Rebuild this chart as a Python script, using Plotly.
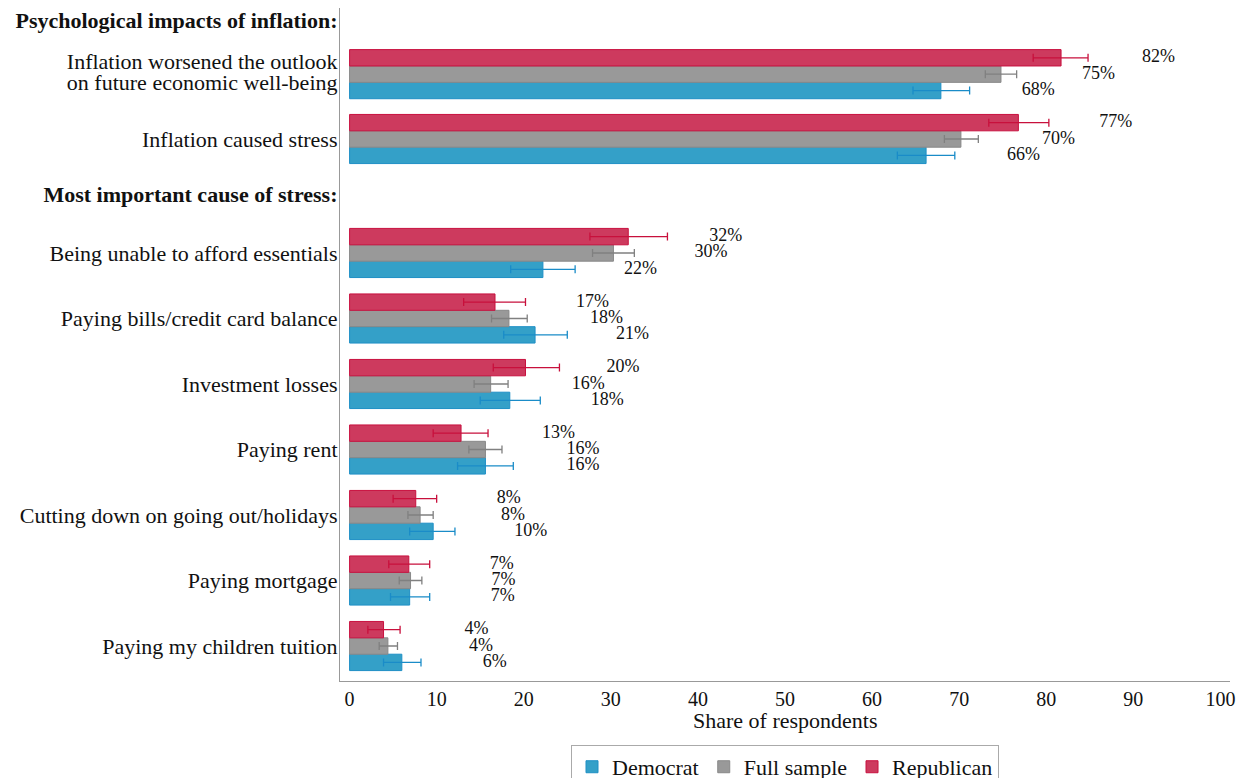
import plotly.graph_objects as go

# ---------------- data ----------------
categories = [
    "Inflation worsened the outlook|on future economic well-being",
    "Inflation caused stress",
    "Being unable to afford essentials",
    "Paying bills/credit card balance",
    "Investment losses",
    "Paying rent",
    "Cutting down on going out/holidays",
    "Paying mortgage",
    "Paying my children tuition",
]
headers = ["Psychological impacts of inflation:", "Most important cause of stress:"]

rep_val = [81.7, 76.8, 32.0, 16.7, 20.2, 12.8, 7.6, 6.8, 3.9]
rep_lo  = [78.5, 73.4, 27.6, 13.1, 16.5, 9.6, 5.0, 4.5, 2.1]
rep_hi  = [84.8, 80.3, 36.5, 20.2, 24.1, 15.9, 10.0, 9.2, 5.8]

full_val = [74.8, 70.2, 30.3, 18.3, 16.2, 15.6, 8.1, 7.0, 4.4]
full_lo  = [73.0, 68.3, 27.9, 16.3, 14.3, 13.7, 6.7, 5.7, 3.4]
full_hi  = [76.6, 72.2, 32.7, 20.4, 18.2, 17.5, 9.6, 8.3, 5.5]

dem_val = [67.9, 66.2, 22.2, 21.3, 18.4, 15.6, 9.6, 6.9, 6.0]
dem_lo  = [64.7, 62.9, 18.5, 17.7, 15.0, 12.4, 6.9, 4.7, 3.9]
dem_hi  = [71.2, 69.5, 25.9, 25.0, 21.9, 18.8, 12.1, 9.2, 8.2]

x_ticks = [0, 10, 20, 30, 40, 50, 60, 70, 80, 90, 100]

# ---------------- layout positions (row centres) ----------------
row_pos = [8.73, 7.74, 6, 5, 4, 3, 2, 1, 0]
header_pos = [9.55, 6.9]
two_line_shift = (0.19, -0.13)
bar_h = 0.25
label_offset = 9.3

series = [
    ("Democrat", dem_val, dem_lo, dem_hi, -bar_h, "#34a0c8", "#1e8fc5", "#1a8cc8"),
    ("Full sample", full_val, full_lo, full_hi, 0.0, "#999999", "#888888", "#808080"),
    ("Republican", rep_val, rep_lo, rep_hi, bar_h, "#cd3a5e", "#c8103f", "#c8103c"),
]

FONT = "Liberation Serif"
fig = go.Figure()
for name, vals, lo, hi, off, fill, line, ecol in series:
    ys = [p + off for p in row_pos]
    fig.add_trace(go.Bar(
        name=name, x=vals, y=ys, orientation="h", width=bar_h,
        marker=dict(color=fill, line=dict(color=line, width=1)),
        error_x=dict(type="data", symmetric=False,
                     array=[h - v for h, v in zip(hi, vals)],
                     arrayminus=[v - l for v, l in zip(vals, lo)],
                     color=ecol, thickness=1.3, width=4),
    ))
for name, vals, lo, hi, off, fill, line, ecol in series:
    ys = [p + off for p in row_pos]
    fig.add_trace(go.Scatter(
        x=[v + label_offset for v in vals], y=ys, mode="text",
        text=[f"{v:.0f}%" for v in vals], textposition="middle right",
        textfont=dict(family=FONT, size=18, color="#111"),
        showlegend=False, hoverinfo="skip", cliponaxis=False,
    ))

# tick labels (multi-line labels split into separate lines for tight spacing)
tick_vals, tick_text = [], []
for cat, p in zip(categories, row_pos):
    parts = cat.split("|")
    if len(parts) == 2:
        tick_vals += [p + two_line_shift[0], p + two_line_shift[1]]
        tick_text += parts
    else:
        tick_vals.append(p)
        tick_text.append(cat)
for h, p in zip(headers, header_pos):
    tick_vals.append(p)
    tick_text.append(f"<b>{h}</b>")

fig.update_layout(
    width=1248, height=778,
    margin=dict(l=332, r=26, t=0, b=105, autoexpand=False),
    plot_bgcolor="white", paper_bgcolor="white",
    barmode="overlay",
    font=dict(family=FONT, size=22, color="#111"),
    showlegend=True,
    legend=dict(orientation="h", x=0.5, xanchor="center", y=-0.095, yanchor="top",
                bordercolor="#aaaaaa", borderwidth=1, font=dict(size=22),
                traceorder="normal", itemwidth=30),
    xaxis=dict(range=[-1.1, 101.1], tickvals=x_ticks, showgrid=False, zeroline=False,
               showline=True, linecolor="#999999", linewidth=1.2, ticks="",
               automargin=False, tickfont=dict(size=20)),
    yaxis=dict(range=[-0.534, 9.74], tickvals=tick_vals,
               ticktext=tick_text, showgrid=False, zeroline=False,
               showline=True, linecolor="#999999", linewidth=1.2, ticks="",
               automargin=False, ticklabelstandoff=-3, ticklabeloverflow="allow",
               tickfont=dict(size=22)),
    annotations=[dict(text="Share of respondents", xref="paper", yref="paper",
                      x=0.5, y=-0.058, xanchor="center", yanchor="middle",
                      showarrow=False, font=dict(size=22))],
)

fig.write_html("out.html")
